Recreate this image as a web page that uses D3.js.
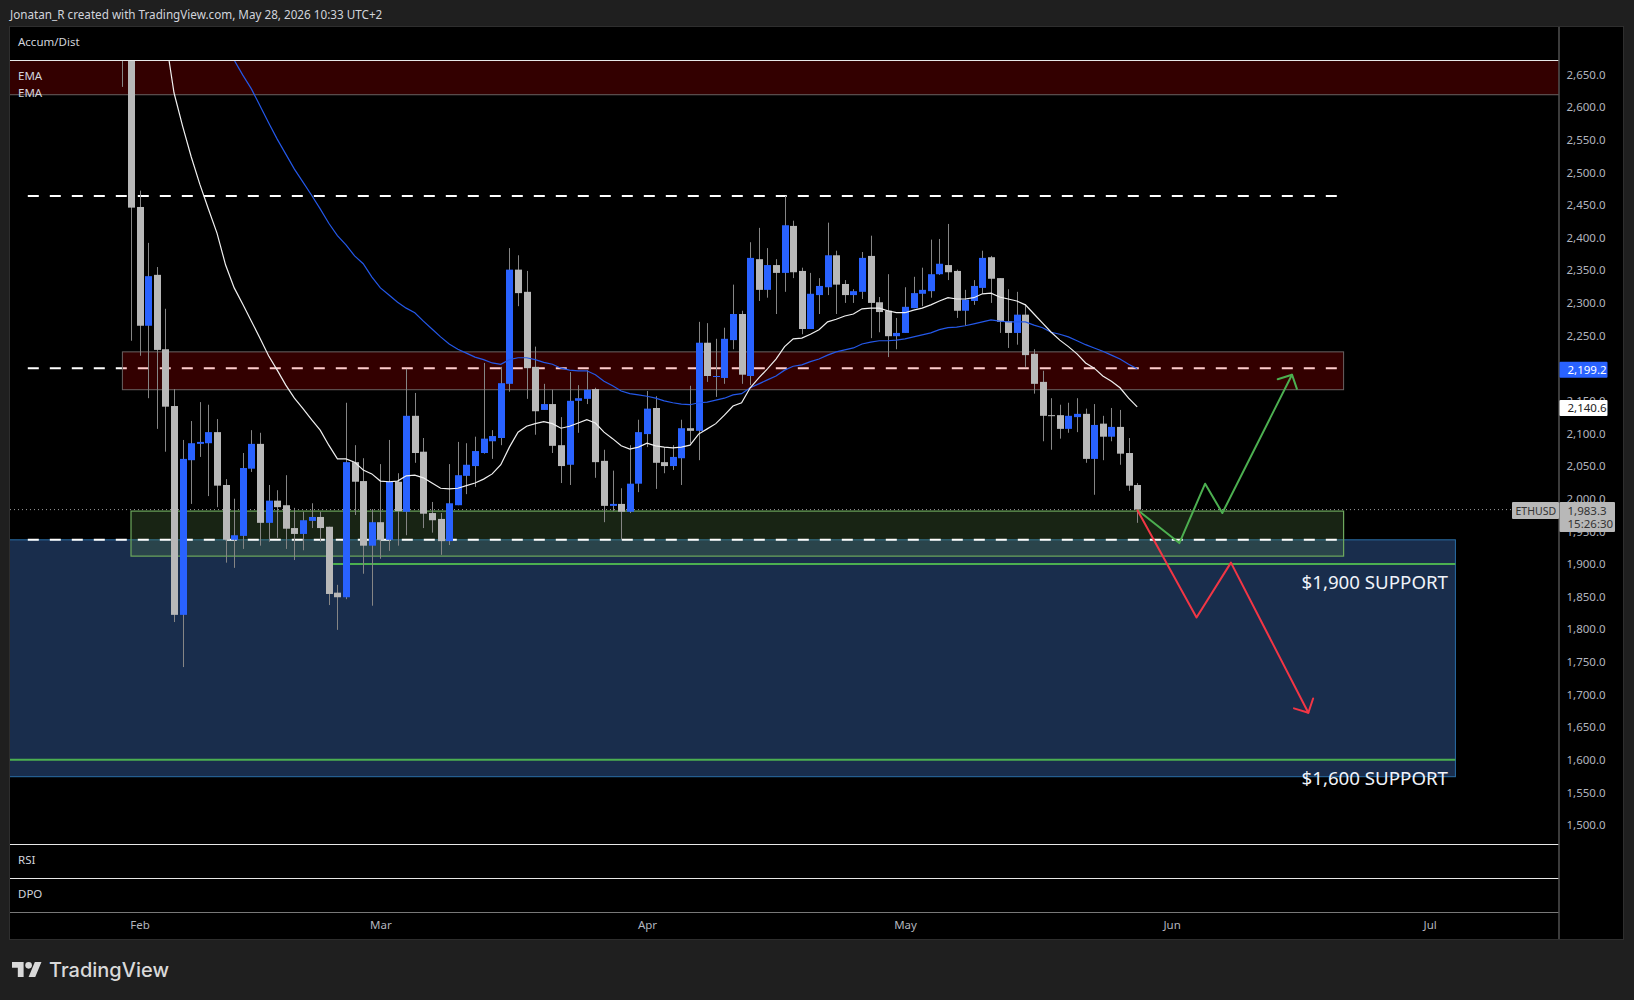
<!DOCTYPE html>
<html>
<head>
<meta charset="utf-8">
<title>ETHUSD</title>
<script src="https://cdn.jsdelivr.net/npm/d3@7"></script>
<style>
  html, body { margin: 0; padding: 0; background: #1f1f1f; overflow: hidden; }
  svg { display: block; }
  text { font-family: "Noto Sans", sans-serif; }
  .axis path, .axis line { display: none; }
  .axis text { fill: #b2b5be; font-size: 11.5px; font-family: "Noto Sans", sans-serif; }
</style>
</head>
<body>
<div id="chart"></div>
<script>
// daily candles, first one is Jan 30
var firstDay = Date.UTC(2026, 0, 30);

var opens = [2790,2700,
  2447,2265,2343,2229,2142,1822,2059,2084,2085,2102,
  2021,1937,1943,2046,2084,1963,1997,1990,1955,1946,
  1966,1972,1957,1856,1849,2056,2027,1928,1964,1937,
  2026,1980,2127,2072,1978,1969,1935,1990,2035,2050,
  2070,2088,2093,2176,2351,2317,2202,2136,2145,2082,
  2052,2150,2153,2168,2058,1989,1992,1980,2023,2099,
  2139,2056,2050,2062,2108,2104,2239,2187,2185,2243,
  2283,2188,2367,2320,2358,2346,2418,2349,2260,2312,
  2324,2373,2329,2312,2317,2372,2301,2288,2249,2254,
  2292,2314,2318,2344,2358,2349,2288,2303,2323,2370,
  2338,2272,2254,2282,2222,2179,2128,2128,2107,2125,
  2130,2061,2115,2095,2110,2070,2021];
var highs = [2820,2720,
  2472,2392,2355,2291,2168,2090,2119,2148,2144,2122,
  2030,2000,2070,2105,2101,2021,2013,2036,1986,1980,
  1993,1980,1957,1868,2147,2082,2062,1984,2053,2090,
  2039,2199,2162,2093,1995,1978,2053,2087,2085,2095,
  2208,2105,2202,2384,2373,2349,2233,2176,2167,2125,
  2194,2174,2197,2170,2075,2043,2016,2082,2121,2165,
  2157,2079,2082,2121,2173,2271,2269,2245,2262,2328,
  2288,2393,2415,2384,2367,2464,2426,2354,2346,2338,
  2423,2380,2335,2321,2378,2403,2309,2344,2277,2324,
  2340,2354,2397,2398,2421,2351,2320,2335,2380,2372,
  2338,2321,2317,2298,2229,2196,2154,2144,2147,2154,
  2138,2145,2127,2139,2136,2093,2024];
var lows = [2631,2242,
  2219,2154,2107,2072,1811,1742,1992,2064,2004,1987,
  1902,1894,1923,2041,1928,1934,1940,1923,1906,1921,
  1955,1934,1837,1799,1846,1975,1885,1836,1908,1920,
  1928,1944,2055,1955,1948,1914,1929,1990,2007,2018,
  2069,2061,2082,2164,2295,2153,2098,2136,2070,2024,
  2021,2101,2145,2032,1964,1981,1937,1978,2010,2079,
  2015,2039,2044,2021,2085,2059,2179,2156,2176,2229,
  2176,2174,2303,2308,2283,2317,2338,2252,2260,2283,
  2312,2283,2300,2300,2306,2246,2255,2217,2229,2254,
  2292,2295,2308,2343,2335,2277,2265,2297,2314,2300,
  2254,2231,2236,2202,2161,2088,2075,2092,2101,2102,
  2055,2006,2059,2088,2052,2012,1963];
var closes = [2700,2446,
  2265,2341,2228,2141,1822,2061,2085,2087,2102,2020,
  1937,1944,2047,2084,1963,1997,1987,1954,1946,1967,
  1972,1955,1854,1849,2056,2026,1928,1964,1937,2026,
  1981,2127,2070,1977,1967,1935,1993,2036,2052,2073,
  2092,2096,2177,2351,2315,2200,2134,2145,2081,2050,
  2150,2154,2167,2056,1989,1992,1980,2023,2102,2138,
  2055,2050,2064,2108,2104,2239,2188,2188,2245,2283,
  2190,2369,2320,2358,2346,2419,2347,2260,2314,2326,
  2373,2328,2312,2318,2369,2300,2286,2249,2254,2294,
  2315,2320,2344,2360,2347,2288,2305,2326,2369,2337,
  2271,2254,2282,2220,2176,2127,2127,2107,2127,2130,
  2061,2113,2095,2110,2069,2020,1983.3];

// emas start later than the candles, the earlier part is off the top of the pane
var emaFastStart = 5;
var emaFast = [2708,2622,2571,2524,2482,2444,2407,2358,2323,2298,
  2272,2246,2219,2197,2174,2154,2138,2121,2105,2082,
  2061,2061,2056,2044,2038,2027,2026,2027,2035,2036,
  2032,2024,2016,2015,2016,2020,2024,2030,2038,2052,
  2079,2102,2111,2115,2118,2115,2108,2111,2116,2121,
  2116,2102,2092,2081,2076,2079,2085,2081,2079,2078,
  2079,2082,2099,2107,2115,2128,2142,2147,2170,2185,
  2199,2214,2233,2245,2246,2252,2259,2271,2275,2280,
  2283,2291,2292,2292,2288,2285,2285,2289,2292,2297,
  2303,2308,2306,2306,2308,2314,2315,2309,2306,2303,
  2297,2283,2269,2255,2243,2233,2222,2208,2200,2188,
  2180,2170,2154,2140.6];
var emaSlowStart = 12;
var emaSlow = [2695,2672,2649,2628,2602,2576,2551,2528,2505,2485,
  2465,2444,2422,2403,2389,2372,2360,2340,2323,2312,
  2301,2292,2285,2272,2260,2248,2237,2229,2223,2217,
  2213,2208,2206,2213,2216,2216,2213,2209,2206,2200,
  2197,2196,2196,2190,2180,2173,2165,2161,2159,2157,
  2154,2150,2147,2145,2144,2147,2148,2151,2154,2159,
  2161,2170,2176,2182,2188,2197,2203,2205,2210,2214,
  2220,2225,2228,2231,2237,2240,2242,2242,2243,2245,
  2248,2251,2254,2259,2262,2263,2265,2268,2271,2274,
  2272,2271,2271,2271,2266,2262,2255,2252,2248,2242,
  2236,2231,2226,2220,2214,2206,2199.2];

var priceTicks = [1500,1550,1600,1650,1700,1750,1800,1850,1900,1950,2000,2050,2100,2150,2200,2250,2300,2350,2400,2450,2500,2550,2600,2650];
var monthLabels = ["Feb","Mar","Apr","May","Jun","Jul"];
var monthDays = [2,30,61,91,122,152];

// drawings: [left day, right day, low price, high price]
var redZones = [[-14,168,2619,2700],[0,142,2167,2225]];
var greenZone = [1,142,1912,1981];
var blueZone = [-14,155,1574,1937];
var dashLevels = [2464,2200];
var lowerDash = 1937;
var supportLines = [[24.5,155,1900],[-14,155,1600]];
var supportLabels = ["$1,900 SUPPORT","$1,600 SUPPORT"];
var supportLabelPrices = [1861,1561];
var greenPath = [[118,1983],[122.9,1932],[125.9,2023],[127.9,1978],[136,2190]];
var redPath = [[118,1983],[124.9,1818],[128.9,1902],[137.9,1672]];

var lastPrice = "1,983.3", countdown = "15:26:30";

var width = 1634, height = 1000;
var pane = {left: 10, right: 1558.5, top: 60, bottom: 844};

var svg = d3.select("#chart").append("svg")
  .attr("width", width).attr("height", height);

var dayMs = 86400000;
function dayDate(d){ return new Date(firstDay + d * dayMs); }

var x = d3.scaleUtc()
  .domain([dayDate(2), dayDate(118)])
  .range([139.6, 1137.2]);
var y = d3.scaleLinear()
  .domain([1500, 2650])
  .range([825, 74.5]);
function xd(d){ return x(dayDate(d)); }

svg.append("defs").append("clipPath").attr("id", "mainClip")
  .append("rect")
  .attr("x", pane.left).attr("y", pane.top)
  .attr("width", pane.right - pane.left).attr("height", pane.bottom - pane.top);

//panels
svg.append("rect")
  .attr("x", 9.5).attr("y", 26.5)
  .attr("width", 1614).attr("height", 913)
  .attr("fill", "#000").attr("stroke", "#2e2e2e");

var main = svg.append("g").attr("clip-path", "url(#mainClip)");

//dashed levels go under the red zones, that's why they look pink there
main.selectAll(".dash").data(dashLevels).enter().append("line")
  .attr("class", "dash")
  .attr("x1", xd(-11)).attr("x2", xd(141.3))
  .attr("y1", function(d){ return y(d); }).attr("y2", function(d){ return y(d); })
  .attr("stroke", "#fff").attr("stroke-width", 2).attr("stroke-dasharray", "11,11");

function zoneRect(sel){
  sel.attr("x", function(d){ return xd(d[0]); })
    .attr("width", function(d){ return xd(d[1]) - xd(d[0]); })
    .attr("y", function(d){ return y(d[3]); })
    .attr("height", function(d){ return y(d[2]) - y(d[3]); });
}

main.append("rect").datum(blueZone).call(zoneRect)
  .attr("fill", "#192d4c").attr("stroke", "#2a6fa8");

main.selectAll(".redZone").data(redZones).enter().append("rect")
  .attr("class", "redZone").call(zoneRect)
  .attr("fill", "rgba(255,0,0,0.2)").attr("stroke", "#6a6262");

main.append("rect").datum(greenZone).call(zoneRect)
  .attr("fill", "rgba(90,133,73,0.27)").attr("stroke", "#6da85d").attr("stroke-width", 1.2);

main.append("line")
  .attr("x1", xd(-11)).attr("x2", xd(141.3))
  .attr("y1", y(lowerDash)).attr("y2", y(lowerDash))
  .attr("stroke", "#fff").attr("stroke-width", 2).attr("stroke-dasharray", "11,11");

main.selectAll(".support").data(supportLines).enter().append("line")
  .attr("class", "support")
  .attr("x1", function(d){ return xd(d[0]); }).attr("x2", function(d){ return xd(d[1]); })
  .attr("y1", function(d){ return y(d[2]); }).attr("y2", function(d){ return y(d[2]); })
  .attr("stroke", "#4caf50").attr("stroke-width", 2);

//last price dotted line
main.append("line")
  .attr("x1", pane.left).attr("x2", 1512)
  .attr("y1", y(1983.3)).attr("y2", y(1983.3))
  .attr("stroke", "#9a9a9a").attr("stroke-dasharray", "1,3");

//candles
var bars = d3.range(opens.length);
var candle = main.selectAll(".candle").data(bars).enter().append("g").attr("class", "candle");
candle.append("line")
  .attr("x1", function(d){ return Math.round(xd(d)) + 0.5; })
  .attr("x2", function(d){ return Math.round(xd(d)) + 0.5; })
  .attr("y1", function(d){ return y(highs[d]); })
  .attr("y2", function(d){ return y(lows[d]); })
  .attr("stroke", "#858585");
candle.append("rect")
  .attr("x", function(d){ return Math.round(xd(d)) - 3; })
  .attr("width", 7)
  .attr("y", function(d){ return y(Math.max(opens[d], closes[d])); })
  .attr("height", function(d){ return Math.max(1, Math.abs(y(opens[d]) - y(closes[d]))); })
  .attr("fill", function(d){ return closes[d] >= opens[d] ? "#2962ff" : "#b8b8b8"; });

//ema lines
function emaLine(start){
  return d3.line()
    .x(function(d, i){ return xd(start + i); })
    .y(function(d){ return y(d); });
}
main.append("path").attr("d", emaLine(emaSlowStart)(emaSlow))
  .attr("fill", "none").attr("stroke", "#2458e8").attr("stroke-width", 1.2);
main.append("path").attr("d", emaLine(emaFastStart)(emaFast))
  .attr("fill", "none").attr("stroke", "#f0f0f0").attr("stroke-width", 1.2);

//projected paths with open arrow heads
function arrowPath(points, color){
  var line = d3.line()
    .x(function(d){ return xd(d[0]); })
    .y(function(d){ return y(d[1]); });
  main.append("path").attr("d", line(points))
    .attr("fill", "none").attr("stroke", color).attr("stroke-width", 2).attr("stroke-linejoin", "round");
  var a = points[points.length - 2], b = points[points.length - 1];
  var tipX = xd(b[0]), tipY = y(b[1]);
  var ang = Math.atan2(tipY - y(a[1]), tipX - xd(a[0]));
  [-0.8, 0.8].forEach(function(off){
    main.append("line")
      .attr("x1", tipX).attr("y1", tipY)
      .attr("x2", tipX - 15 * Math.cos(ang + off))
      .attr("y2", tipY - 15 * Math.sin(ang + off))
      .attr("stroke", color).attr("stroke-width", 2).attr("stroke-linecap", "round");
  });
}
arrowPath(greenPath, "#4caf50");
arrowPath(redPath, "#f23645");

main.selectAll(".supportLabel").data(supportLabels).enter().append("text")
  .attr("class", "supportLabel")
  .attr("x", 1448)
  .attr("y", function(d, i){ return y(supportLabelPrices[i]); })
  .attr("text-anchor", "end")
  .attr("font-size", 18.7)
  .attr("fill", "#f0f3fa")
  .text(function(d){ return d; });

//pane separators
[[60,"#e8e8e8"],[844,"#e8e8e8"],[878,"#e8e8e8"],[912,"#787878"]].forEach(function(s){
  svg.append("line")
    .attr("x1", pane.left).attr("x2", pane.right)
    .attr("y1", s[0] + 0.5).attr("y2", s[0] + 0.5)
    .attr("stroke", s[1]);
});
svg.append("line")
  .attr("x1", pane.right + 0.5).attr("x2", pane.right + 0.5)
  .attr("y1", 27).attr("y2", 939)
  .attr("stroke", "#787878");

//axes
svg.append("g").attr("class", "axis")
  .attr("transform", "translate(" + (pane.right + 2) + ",0)")
  .call(d3.axisRight(y).tickValues(priceTicks).tickSize(0).tickPadding(6).tickFormat(d3.format(",.1f")));

svg.append("g").attr("class", "axis")
  .attr("transform", "translate(0,919)")
  .call(d3.axisBottom(x)
    .tickValues(monthDays.map(dayDate))
    .tickSize(0).tickPadding(2)
    .tickFormat(function(d, i){ return monthLabels[i]; }));

//pane legends
var legends = [["Accum/Dist",46],["EMA",80],["EMA",96.5],["RSI",864],["DPO",898]];
svg.selectAll(".legend").data(legends).enter().append("text")
  .attr("class", "legend")
  .attr("x", 18).attr("y", function(d){ return d[1]; })
  .attr("font-size", 11.5).attr("fill", "#d1d4dc")
  .text(function(d){ return d[0]; });

//price labels on the axis
function priceTag(value, bg, fg, right){
  var cy = y(value);
  svg.append("rect")
    .attr("x", pane.right + 1).attr("y", cy - 7)
    .attr("width", right - pane.right - 1).attr("height", 16)
    .attr("rx", 1).attr("fill", bg);
  svg.append("text")
    .attr("x", pane.right + 9).attr("y", cy + 5.5)
    .attr("font-size", 11.5).attr("fill", fg)
    .text(d3.format(",.1f")(value));
}
priceTag(emaSlow[emaSlow.length - 1], "#2962ff", "#fff", 1607.5);
priceTag(emaFast[emaFast.length - 1], "#fff", "#222", 1607.5);

var lastY = y(1983.3);
svg.append("rect").attr("x", 1512).attr("y", lastY - 7.5)
  .attr("width", 47).attr("height", 17).attr("rx", 1).attr("fill", "#b8b8b8");
svg.append("rect").attr("x", pane.right + 1).attr("y", lastY - 7.5)
  .attr("width", 55.5).attr("height", 30).attr("rx", 1).attr("fill", "#b8b8b8");
svg.append("text").attr("x", 1515.5).attr("y", lastY + 5)
  .attr("font-size", 10.5).attr("fill", "#333").text("ETHUSD");
svg.append("text").attr("x", pane.right + 9).attr("y", lastY + 5.5)
  .attr("font-size", 11.5).attr("fill", "#333").text(lastPrice);
svg.append("text").attr("x", pane.right + 9).attr("y", lastY + 18.5)
  .attr("font-size", 11.5).attr("fill", "#333").text(countdown);

//header and logo
svg.append("text")
  .attr("x", 10).attr("y", 19)
  .attr("font-size", 11.7).attr("fill", "#d1d4dc")
  .text("Jonatan_R created with TradingView.com, May 28, 2026 10:33 UTC+2");

var logo = svg.append("g").attr("transform", "translate(12,958.7) scale(0.83)").attr("fill", "#d9d9d9");
logo.append("path").attr("d", "M14 22H7V11H0V4h14v18zM28 22h-8l7.5-18h8L28 22z");
logo.append("circle").attr("cx", 20).attr("cy", 8).attr("r", 4);
svg.append("text")
  .attr("x", 49).attr("y", 977)
  .style("font-family", "Inter, sans-serif")
  .attr("font-size", 20).attr("font-weight", 500).attr("fill", "#d9d9d9")
  .text("TradingView");
</script>
</body>
</html>
